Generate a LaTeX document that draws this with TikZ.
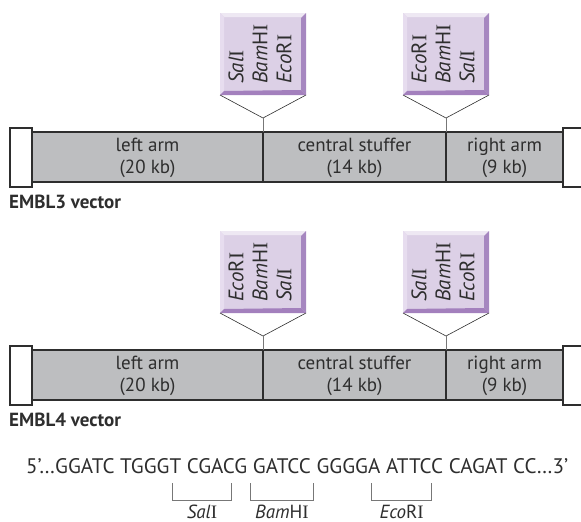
\documentclass[tikz,border=0pt]{standalone}
\usepackage{fontspec}
\usetikzlibrary{calc}
\setmainfont{PT Sans}
\newfontfamily\serifI{Liberation Serif}
\newcommand{\RI}{{\serifI I}}
\definecolor{bargray}{HTML}{BDBEC0}
\definecolor{face}{HTML}{DCD0E6}
\definecolor{bevtop}{HTML}{EEE8F3}
\definecolor{bevleft}{HTML}{E7DDEF}
\definecolor{bevright}{HTML}{A687C0}
\definecolor{bevbot}{HTML}{A380BD}
\definecolor{ink}{HTML}{2E2E2E}
\definecolor{stem}{HTML}{777777}
\tikzset{
  outline/.style={draw=ink, line width=1.1pt},
  barlabel/.style={align=center, inner sep=0pt, text=ink, font=\fontsize{19}{22}\selectfont},
  sitelabel/.style={rotate=90, anchor=west, align=left, inner sep=0pt, text=ink, font=\fontsize{21}{24}\selectfont},
  vlabel/.style={anchor=base west, inner sep=0pt, text=ink, font=\bfseries\fontsize{19}{22}\selectfont},
  bracket/.style={draw=stem, line width=0.9pt},
  enzlabel/.style={anchor=base, inner sep=0pt, text=ink, font=\fontsize{19}{22}\selectfont},
}
% #1 centre x, #2 node name, #3 text
\newcommand{\sitebox}[3]{%
  \path[fill=face] (#1-43,13) rectangle (#1+43,95);
  \path[fill=bevtop] (#1-43,13) -- (#1+43,13) -- (#1+39,17) -- (#1-39,17) -- cycle;
  \path[fill=bevleft] (#1-43,13) -- (#1-39,17) -- (#1-39,91) -- (#1-43,95) -- cycle;
  \path[fill=bevright] (#1+43,13) -- (#1+43,95) -- (#1+38,90) -- (#1+38,18) -- cycle;
  \path[fill=bevbot] (#1-43,95) -- (#1+43,95) -- (#1+38,90) -- (#1-39,91) -- cycle;
  \node[sitelabel] (#2) at (#1-3,84) {#3};
  \coordinate (#2-l) at (#1-43,95);
  \coordinate (#2-r) at (#1+43,95);
  \coordinate (#2-apex) at (#1,118);
  \coordinate (#2-bar) at (#1,132);
  \coordinate (#2-bot) at (#1,182);
  \draw[line width=0.6pt, draw=ink] (#2-l) -- (#2-apex) -- (#2-r);
  \draw[line width=1pt, draw=stem] (#2-apex) -- (#2-bar);
  \draw[line width=1.1pt, draw=ink] (#2-bar) -- (#2-bot);
}
\newcommand{\vectorrow}[4]{%
  \draw[outline, fill=white] (10,128) rectangle (32,187);
  \draw[outline, fill=white] (563,128) rectangle (600,187);
  \draw[outline, fill=bargray] (32,132) rectangle (563,182);
  \sitebox{263}{#1a}{#2}
  \sitebox{446}{#1b}{#3}
  \node[barlabel] (#1left) at (147.5,158) {left arm\\(20 kb)};
  \node[barlabel] (#1mid) at (354.5,158) {central stuffer\\(14 kb)};
  \node[barlabel] (#1right) at (504.5,158) {right arm\\(9 kb)};
  \node[vlabel] (#1name) at (9,208) {#4};
}
\newlength\seqnat
\newlength\posA \newlength\posB \newlength\posC
\newlength\posD \newlength\posE \newlength\posF
\newcommand{\seqtext}{5’…GGATC TGGGT CGACG GATCC GGGGA ATTCC CAGAT CC…3’}
\begin{document}
\settowidth\seqnat{\fontsize{17}{20}\selectfont\seqtext}%
\pgfmathsetmacro\seqsize{17*542/\seqnat}%
\def\seqfont{\fontsize{\seqsize}{20}\selectfont}%
\settowidth\posA{\seqfont 5’…GGATC TGGG}%
\settowidth\posB{\seqfont 5’…GGATC TGGGT CGAC}%
\settowidth\posC{\seqfont 5’…GGATC TGGGT CGACG}%
\settowidth\posD{\seqfont 5’…GGATC TGGGT CGACG GATCC}%
\settowidth\posE{\seqfont 5’…GGATC TGGGT CGACG GATCC GGGG}%
\settowidth\posF{\seqfont 5’…GGATC TGGGT CGACG GATCC GGGGA ATTC}%
\begin{tikzpicture}[x=1pt,y=-1pt]
\path[use as bounding box] (0,0) rectangle (581,522);
\clip (0,0) rectangle (581,522);
\begin{scope}
\vectorrow{t}{\textit{Sal}\RI\\\textit{Bam}H\RI\\\textit{Eco}R\RI}{\textit{Eco}R\RI\\\textit{Bam}H\RI\\\textit{Sal}\RI}{EMBL3 vector}
\end{scope}
\begin{scope}[yshift=-218pt]
\vectorrow{b}{\textit{Eco}R\RI\\\textit{Bam}H\RI\\\textit{Sal}\RI}{\textit{Sal}\RI\\\textit{Bam}H\RI\\\textit{Eco}R\RI}{EMBL4 vector}
\end{scope}
\node[anchor=base west, inner sep=0pt, text=ink, font=\seqfont] (seq) at (26,473) {\seqtext};
\coordinate (s1) at ([xshift=\posA+3pt]seq.base west);
\coordinate (s2) at ([xshift=\posB-3pt]seq.base west);
\coordinate (m1) at ([xshift=\posC+3pt]seq.base west);
\coordinate (m2) at ([xshift=\posD+3pt]seq.base west);
\coordinate (e1) at ([xshift=\posE+4pt]seq.base west);
\coordinate (e2) at ([xshift=\posF]seq.base west);
\foreach \a/\b/\n/\t in {s1/s2/sal/{\textit{Sal}\RI}, m1/m2/bam/{\textit{Bam}H\RI}, e1/e2/eco/{\textit{Eco}R\RI}}{
  \draw[bracket] ([yshift=-10pt]\a) -- ([yshift=-27pt]\a) -- ([yshift=-27pt]\b) -- ([yshift=-10pt]\b);
  \node[enzlabel] (\n) at ($([yshift=-45pt]\a)!0.5!([yshift=-45pt]\b)$) {\t};
}
\end{tikzpicture}
\end{document}
